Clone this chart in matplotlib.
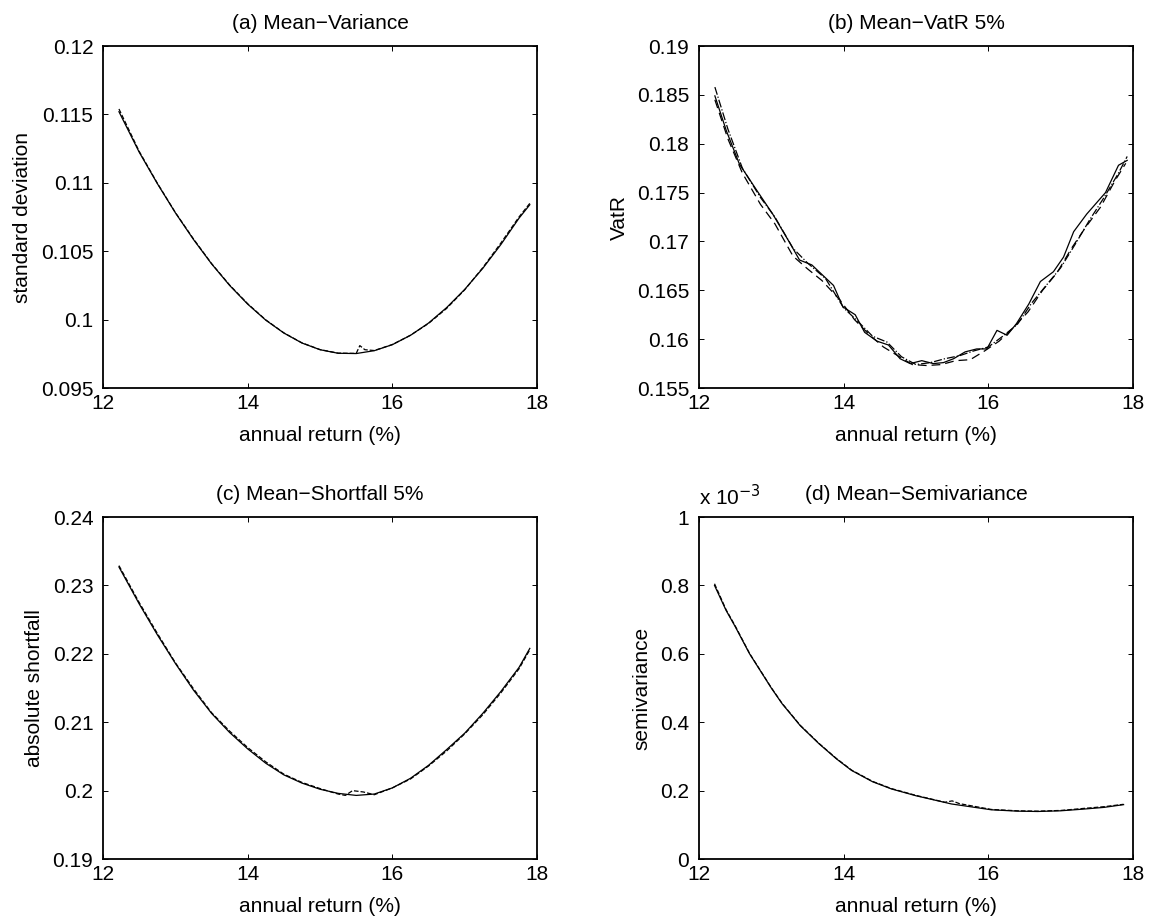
import matplotlib
matplotlib.use('Agg')
import matplotlib.pyplot as plt
from matplotlib.ticker import FormatStrFormatter

plt.rcParams['font.family'] = ['Liberation Sans', 'DejaVu Sans']
plt.rcParams['font.size'] = 15

# (a) Mean-Variance
ret_a = [12.22, 12.5, 12.75, 13.0, 13.25, 13.5, 13.75, 14.0, 14.25, 14.5, 14.75, 15.0, 15.25, 15.5, 15.75, 16.0, 16.25, 16.5, 16.75, 17.0, 17.25, 17.5, 17.75, 17.9]
std_a = [0.1152, 0.11224, 0.10995, 0.10781, 0.10586, 0.10408, 0.10250, 0.10113, 0.09996, 0.09902, 0.09829, 0.0978, 0.09754, 0.09752, 0.09773, 0.09817, 0.09885, 0.09975, 0.10088, 0.10221, 0.10375, 0.10549, 0.10741, 0.1084]
ret_a2 = [12.22, 12.5, 12.75, 13.0, 13.25, 13.5, 13.75, 14.0, 14.25, 14.5, 14.75, 15.0, 15.25, 15.5, 15.55, 15.62, 15.75, 16.0, 16.25, 16.5, 16.75, 17.0, 17.25, 17.5, 17.75, 17.9]
std_a2 = [0.1154, 0.11230, 0.10998, 0.10783, 0.10590, 0.10410, 0.10253, 0.10116, 0.09998, 0.09903, 0.09830, 0.09781, 0.09755, 0.09753, 0.0981, 0.0978, 0.09774, 0.09818, 0.09886, 0.09972, 0.10082, 0.10218, 0.10380, 0.10560, 0.10750, 0.1085]

# (b) Mean-VatR 5%
ret_b = [12.22, 12.38, 12.56, 12.82, 13.02, 13.26, 13.39, 13.56, 13.86, 13.99, 14.16, 14.29, 14.46, 14.62, 14.78, 14.92, 15.08, 15.24, 15.38, 15.52, 15.68, 15.84, 15.98, 16.12, 16.26, 16.39, 16.56, 16.72, 16.90, 17.04, 17.18, 17.36, 17.62, 17.80, 17.92]
var_b = [0.1849, 0.1813, 0.1779, 0.1750, 0.1728, 0.1698, 0.1681, 0.1676, 0.1655, 0.1633, 0.1625, 0.1607, 0.1598, 0.1594, 0.1580, 0.1575, 0.1578, 0.1575, 0.1576, 0.1580, 0.1587, 0.1590, 0.1590, 0.1609, 0.1604, 0.1616, 0.1636, 0.1659, 0.1669, 0.1684, 0.1710, 0.1728, 0.1750, 0.1778, 0.1783]
ret_b2 = [12.22, 12.40, 12.60, 12.85, 13.05, 13.30, 13.50, 13.70, 13.95, 14.15, 14.35, 14.55, 14.75, 14.95, 15.15, 15.35, 15.55, 15.75, 15.95, 16.15, 16.35, 16.55, 16.75, 16.95, 17.15, 17.35, 17.55, 17.75, 17.90]
var_b2 = [0.1845, 0.1805, 0.1770, 0.1738, 0.1718, 0.1685, 0.1672, 0.1660, 0.1640, 0.1620, 0.1605, 0.1592, 0.1583, 0.1574, 0.1573, 0.1574, 0.1578, 0.1579, 0.1588, 0.1598, 0.1612, 0.1628, 0.1650, 0.1668, 0.1693, 0.1715, 0.1735, 0.1762, 0.1780]
ret_b3 = [12.22, 12.40, 12.60, 12.85, 13.05, 13.30, 13.50, 13.75, 14.00, 14.20, 14.40, 14.60, 14.80, 15.00, 15.20, 15.40, 15.60, 15.80, 16.00, 16.20, 16.40, 16.60, 16.80, 17.00, 17.20, 17.40, 17.60, 17.80, 17.92]
var_b3 = [0.1858, 0.1815, 0.1775, 0.1745, 0.1725, 0.1693, 0.1678, 0.1662, 0.1632, 0.1618, 0.1603, 0.1597, 0.1582, 0.1574, 0.1576, 0.1580, 0.1583, 0.1588, 0.1592, 0.1603, 0.1615, 0.1637, 0.1655, 0.1673, 0.1697, 0.1722, 0.1745, 0.1770, 0.1787]

# (c) Mean-Shortfall 5%
ret_c = [12.22, 12.5, 12.75, 13.0, 13.25, 13.5, 13.75, 14.0, 14.25, 14.5, 14.75, 15.0, 15.25, 15.5, 15.75, 16.0, 16.25, 16.5, 16.75, 17.0, 17.25, 17.5, 17.75, 17.9]
sf_c = [0.2327, 0.2273, 0.2228, 0.2186, 0.2147, 0.2113, 0.2085, 0.2061, 0.2040, 0.2023, 0.2011, 0.2002, 0.1996, 0.1993, 0.1995, 0.2004, 0.2018, 0.2037, 0.2060, 0.2084, 0.2113, 0.2145, 0.2180, 0.2208]
ret_c2 = [12.22, 12.5, 12.75, 13.0, 13.25, 13.5, 13.75, 14.0, 14.25, 14.5, 14.75, 15.0, 15.25, 15.35, 15.45, 15.6, 15.75, 16.0, 16.25, 16.5, 16.75, 17.0, 17.25, 17.5, 17.75, 17.9]
sf_c2 = [0.2329, 0.2275, 0.2230, 0.2187, 0.2149, 0.2114, 0.2087, 0.2063, 0.2042, 0.2024, 0.2012, 0.2003, 0.1995, 0.1993, 0.2000, 0.1998, 0.1994, 0.2004, 0.2017, 0.2036, 0.2058, 0.2083, 0.2111, 0.2143, 0.2178, 0.2206]

# (d) Mean-Semivariance (x 10^-3)
ret_d = [12.215, 12.375, 12.5, 12.7, 13.0, 13.15, 13.4, 13.66, 13.9, 14.11, 14.4, 14.66, 15.0, 15.49, 16.04, 16.4, 16.68, 17.0, 17.32, 17.6, 17.87]
sv_d = [0.800, 0.727, 0.680, 0.600, 0.500, 0.454, 0.390, 0.337, 0.293, 0.259, 0.226, 0.205, 0.185, 0.161, 0.144, 0.140, 0.139, 0.141, 0.146, 0.151, 0.159]
ret_d2 = [12.215, 12.375, 12.5, 12.7, 13.0, 13.15, 13.4, 13.66, 13.9, 14.11, 14.4, 14.66, 15.0, 15.4, 15.5, 15.6, 16.04, 16.4, 16.68, 17.0, 17.32, 17.6, 17.87]
sv_d2 = [0.805, 0.729, 0.682, 0.601, 0.501, 0.455, 0.391, 0.338, 0.294, 0.260, 0.227, 0.206, 0.186, 0.166, 0.170, 0.162, 0.145, 0.141, 0.140, 0.142, 0.148, 0.153, 0.160]

xlab = 'annual return (%)'

fig = plt.figure(figsize=(11.5, 9.21), dpi=100)
w, h = 0.3774, 0.3713
ax_a = fig.add_axes([0.0896, 0.5787, w, h])
ax_b = fig.add_axes([0.6078, 0.5787, w, h])
ax_c = fig.add_axes([0.0896, 0.0673, w, h])
ax_d = fig.add_axes([0.6078, 0.0673, w, h])

lw = 0.9
ax_a.plot(ret_a, std_a, 'k-', lw=lw)
ax_a.plot(ret_a2, std_a2, 'k--', lw=lw)
ax_b.plot(ret_b, var_b, 'k-', lw=lw)
ax_b.plot(ret_b2, var_b2, 'k--', lw=lw, dashes=(7, 4))
ax_b.plot(ret_b3, var_b3, 'k-.', lw=lw)
ax_c.plot(ret_c, sf_c, 'k-', lw=lw)
ax_c.plot(ret_c2, sf_c2, 'k--', lw=lw)
ax_d.plot(ret_d, sv_d, 'k-', lw=lw)
ax_d.plot(ret_d2, sv_d2, 'k--', lw=lw)

setup = [
    (ax_a, '(a) Mean\u2212Variance', 'standard deviation', (0.095, 0.12), [0.095, 0.1, 0.105, 0.11, 0.115, 0.12]),
    (ax_b, '(b) Mean\u2212VatR 5%', 'VatR', (0.155, 0.19), [0.155, 0.16, 0.165, 0.17, 0.175, 0.18, 0.185, 0.19]),
    (ax_c, '(c) Mean\u2212Shortfall 5%', 'absolute shortfall', (0.19, 0.24), [0.19, 0.2, 0.21, 0.22, 0.23, 0.24]),
    (ax_d, '(d) Mean\u2212Semivariance', 'semivariance', (0, 1), [0, 0.2, 0.4, 0.6, 0.8, 1]),
]
for ax, title, ylab, ylim, yt in setup:
    ax.set_xlim(12, 18)
    ax.set_ylim(*ylim)
    ax.set_xticks([12, 14, 16, 18])
    ax.set_yticks(yt)
    ax.yaxis.set_major_formatter(FormatStrFormatter('%g'))
    ax.tick_params(direction='in', top=True, right=True, length=3.5, width=0.7)
    ax.tick_params(axis='y', pad=7)
    ax.tick_params(axis='x', pad=4)
    for s in ax.spines.values():
        s.set_linewidth(1.3)
    ax.set_title(title, fontsize=15, pad=12)
    ax.set_ylabel(ylab, labelpad=6)
    ax.set_xlabel(xlab, labelpad=10)

ax_d.text(0.0, 1.035, r'x 10$^{-3}$', transform=ax_d.transAxes, ha='left', va='baseline', fontsize=15)

fig.savefig('out.png', dpi=100)
